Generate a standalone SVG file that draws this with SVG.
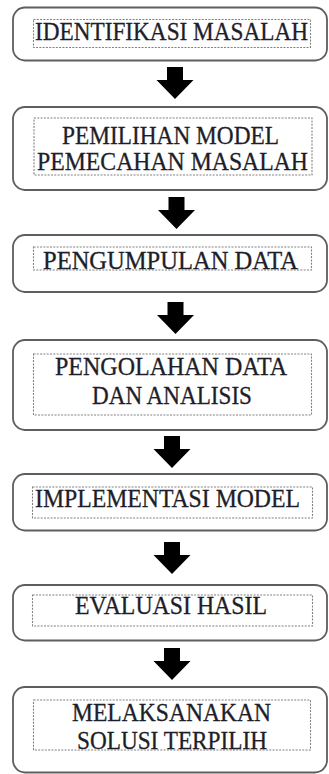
<svg xmlns="http://www.w3.org/2000/svg" width="329" height="774" viewBox="0 0 329 774">
  <style>
    .outer { fill: #ffffff; stroke: #5e5e5e; stroke-width: 1.8; }
    .inner { fill: none; stroke: #808080; stroke-width: 1.1; stroke-dasharray: 2 1.3; }
    .label { font-family: "Liberation Serif", "Times New Roman", serif; font-size: 25px; fill: #1e1e2a; stroke: #1e1e2a; stroke-width: 0.3; }
    .arrow { fill: #000000; }
  </style>
  <defs>
    <!-- block arrow pointing down, origin at the top centre of the shaft -->
    <path id="down" d="M -8 0 H 8 V 13 H 18.5 L 0 32 L -18.5 13 H -8 Z"/>
  </defs>

  <g id="connectors">
    <use href="#down" class="arrow" x="175" y="67"/>
    <use href="#down" class="arrow" x="176.5" y="197"/>
    <use href="#down" class="arrow" x="175.5" y="302"/>
    <use href="#down" class="arrow" x="172" y="436"/>
    <use href="#down" class="arrow" x="172" y="542"/>
    <use href="#down" class="arrow" x="172" y="648"/>
  </g>

  <g id="identifikasi">
    <rect class="outer" x="13" y="7.5" width="314" height="53" rx="12"/>
    <rect class="inner" x="33.5" y="19.5" width="277" height="28"/>
    <text class="label" x="35" y="39.5" textLength="273" lengthAdjust="spacingAndGlyphs">IDENTIFIKASI MASALAH</text>
  </g>

  <g id="pemilihan">
    <rect class="outer" x="13" y="107" width="314" height="83" rx="12"/>
    <rect class="inner" x="34" y="118" width="278" height="57"/>
    <text class="label" x="62" y="143.5" textLength="217" lengthAdjust="spacingAndGlyphs">PEMILIHAN MODEL</text>
    <text class="label" x="37" y="169.5" textLength="271" lengthAdjust="spacingAndGlyphs">PEMECAHAN MASALAH</text>
  </g>

  <g id="pengumpulan">
    <rect class="outer" x="13" y="235" width="314" height="57" rx="12"/>
    <rect class="inner" x="33.5" y="247" width="278" height="23"/>
    <text class="label" x="43" y="268.5" textLength="255" lengthAdjust="spacingAndGlyphs">PENGUMPULAN DATA</text>
  </g>

  <g id="pengolahan">
    <rect class="outer" x="13" y="340" width="314" height="90" rx="12"/>
    <rect class="inner" x="33.5" y="354" width="278" height="61"/>
    <text class="label" x="55" y="375" textLength="232" lengthAdjust="spacingAndGlyphs">PENGOLAHAN DATA</text>
    <text class="label" x="92" y="403.5" textLength="160" lengthAdjust="spacingAndGlyphs">DAN ANALISIS</text>
  </g>

  <g id="implementasi">
    <rect class="outer" x="13" y="474" width="314" height="56.5" rx="12"/>
    <rect class="inner" x="32.5" y="487" width="280" height="31"/>
    <text class="label" x="35" y="507" textLength="265" lengthAdjust="spacingAndGlyphs">IMPLEMENTASI MODEL</text>
  </g>

  <g id="evaluasi">
    <rect class="outer" x="13" y="585" width="314" height="55.5" rx="12"/>
    <rect class="inner" x="32.5" y="595" width="280" height="31"/>
    <text class="label" x="75" y="613.5" textLength="192" lengthAdjust="spacingAndGlyphs">EVALUASI HASIL</text>
  </g>

  <g id="melaksanakan">
    <rect class="outer" x="13" y="687" width="314" height="85.5" rx="12"/>
    <rect class="inner" x="33.5" y="700" width="277" height="50"/>
    <text class="label" x="72" y="721" textLength="199" lengthAdjust="spacingAndGlyphs">MELAKSANAKAN</text>
    <text class="label" x="77" y="748.5" textLength="190" lengthAdjust="spacingAndGlyphs">SOLUSI TERPILIH</text>
  </g>
</svg>
